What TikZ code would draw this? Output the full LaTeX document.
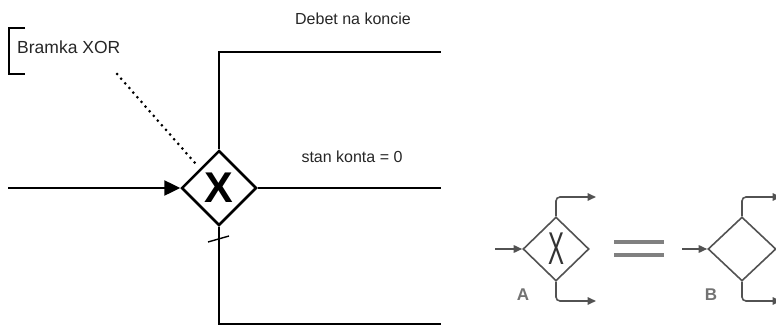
\documentclass[tikz,border=0pt]{standalone}
\usepackage{fontspec}
\setmainfont{Liberation Sans}
\usetikzlibrary{shapes.geometric,arrows.meta}
\begin{document}
\begin{tikzpicture}[x=1pt,y=-1pt,
  flow/.style={line width=2.5pt},
  gate/.style={draw,diamond,line width=2.5pt,inner sep=0pt,minimum width=75pt,minimum height=75pt},
  label/.style={font=\fontsize{16}{18}\selectfont,text=black!85,inner sep=0pt},
  thin/.style={draw=black!68,line width=1.6pt},
  smallgate/.style={thin,diamond,inner sep=0pt,minimum width=66pt,minimum height=64pt},
  tip/.style={-{Triangle[length=8.5pt,width=7.5pt]}},
  branch/.style={thin,rounded corners=4pt,tip},
  tag/.style={text=black!55,font=\bfseries\fontsize{17}{17}\selectfont,inner sep=0pt}]
\useasboundingbox (0,0) rectangle (776,324);
\clip (0,0) rectangle (776,324);

% exclusive gateway with its three outgoing paths
\node[gate] (g) at (219,188) {\bfseries\fontsize{43}{43}\selectfont X};
\coordinate (in) at (8,188);
\coordinate (topcorner) at (219,52);
\coordinate (topend) at (441,52);
\coordinate (midend) at (441,188);
\coordinate (botcorner) at (219,324.6);
\coordinate (botend) at (441,324.6);
\draw[flow,-{Triangle[length=16pt,width=15pt]}] (in) -- (g.west);
\draw[flow] (g.north) -- (topcorner) -- (topend);
\draw[flow] (g.east) -- (midend);
\draw[flow] (g.south) -- (botcorner) -- (botend);
% default-flow slash
\coordinate (s1) at (208,242);
\coordinate (s2) at (229,236);
\draw[line width=1.4pt] (s1) -- (s2);

% path labels
\node[label] (debet) at (353,19) {Debet na koncie};
\node[label] (stan) at (352,157) {stan konta = 0};

% annotation with its bracket and dotted association
\node[label,font=\fontsize{17.5}{18}\selectfont,anchor=west] (note) at (17,47) {Bramka XOR};
\coordinate (b1) at (25,28);
\coordinate (b2) at (9,28);
\coordinate (b3) at (9,74);
\coordinate (b4) at (25,74);
\draw[flow] (b1) -- (b2) -- (b3) -- (b4);
\coordinate (d1) at (117,74);
\coordinate (d2) at (195,163);
\draw[line width=3pt,line cap=round,dash pattern=on 0pt off 6.2pt] (d1) -- (d2);

% gateway A (with marker)
\node[smallgate] (a) at (556,249) {\fontsize{46}{46}\selectfont\color{black!80}\scalebox{0.52}[1]{X}};
\coordinate (ain) at (495,249);
\coordinate (aup) at (556,197);
\coordinate (aupend) at (596,197);
\coordinate (adn) at (556,301);
\coordinate (adnend) at (596,301);
\draw[thin,tip] (ain) -- (a.west);
\draw[branch] (a.north) -- (aup) -- (aupend);
\draw[branch] (a.south) -- (adn) -- (adnend);
\node[tag] (la) at (523,295) {A};

% equals sign
\coordinate (e1) at (614,242);
\coordinate (e2) at (664,242);
\coordinate (e3) at (614,255);
\coordinate (e4) at (664,255);
\draw[black!50,line width=3.8pt] (e1) -- (e2);
\draw[black!50,line width=3.8pt] (e3) -- (e4);

% gateway B (no marker)
\node[smallgate,minimum width=68pt] (b) at (742,249) {};
\coordinate (bin) at (682,249);
\coordinate (bup) at (742,197);
\coordinate (bupend) at (781,197);
\coordinate (bdn) at (742,301);
\coordinate (bdnend) at (781,301);
\draw[thin,tip] (bin) -- (b.west);
\draw[branch] (b.north) -- (bup) -- (bupend);
\draw[branch] (b.south) -- (bdn) -- (bdnend);
\node[tag] (lb) at (711,295) {B};
\end{tikzpicture}
\end{document}
